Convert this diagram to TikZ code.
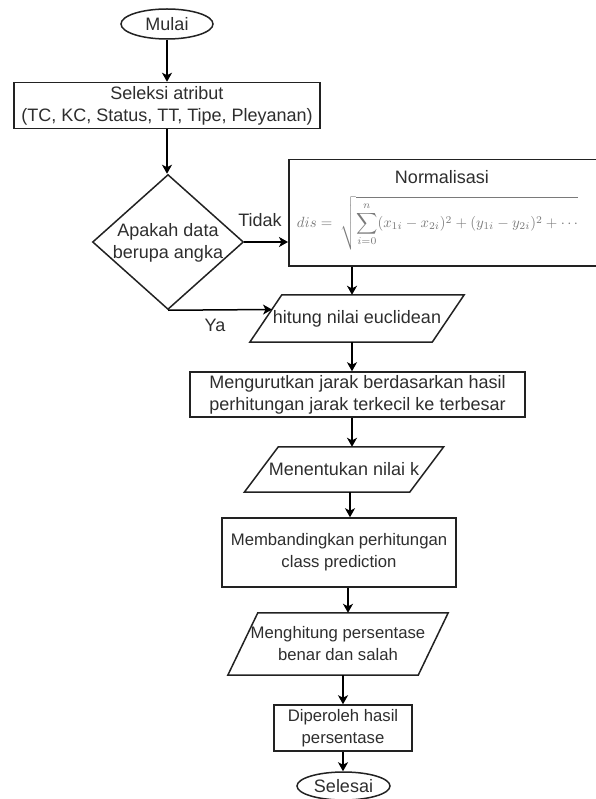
\documentclass[tikz,border=0pt]{standalone}
\usepackage{fontspec}
\setmainfont{Liberation Sans}
\usepackage{graphicx}
\usetikzlibrary{shapes.geometric,arrows.meta,calc}
\definecolor{txt}{HTML}{2E2E2E}
\definecolor{edge}{HTML}{222222}
\definecolor{frm}{HTML}{7A7A7A}
\begin{document}
\begin{tikzpicture}[x=1pt,y=-1pt,
  lbl/.style={font=\fontsize{18}{22}\selectfont, text=txt, align=center},
  lbls/.style={font=\fontsize{16.7}{22}\selectfont, text=txt, align=center},
  box/.style={draw=edge, line width=1.5pt, fill=white, inner sep=0pt, align=center},
  pshape/.style={draw=edge, line width=1.5pt, line join=miter},
  arr/.style={draw=black, line width=1.5pt, -{Stealth[length=9pt,width=10pt,inset=2.5pt]}}]
\useasboundingbox (0,0) rectangle (595,799);
% column coordinates
\coordinate (c1) at (352,0);
\coordinate (c2) at (350,0);
\coordinate (c3) at (348,0);
\coordinate (c4) at (343,0);
% nodes
\node[box, ellipse, minimum width=92pt, minimum height=30pt, lbl] (start) at (167,24) {Mulai};
\node[box, rectangle, minimum width=306pt, minimum height=46pt, lbl] (sel) at (167,105.5) {Seleksi atribut\\(TC, KC, Status, TT, Tipe, Pleyanan)};
\node[box, diamond, minimum width=151pt, minimum height=135pt] (dec) at (168,242) {};
\node[lbl, inner sep=0pt] (dect) at (168,243) {Apakah data\\berupa angka};
\node[box, rectangle, minimum width=312pt, minimum height=106pt, anchor=north west] (norm) at (288,159) {};
\node[lbl, inner sep=0pt] (normt) at (442,177) {Normalisasi};
\node[lbl, inner sep=0pt, minimum width=182pt, minimum height=47pt] (p1) at (357,318.5) {hitung nilai euclidean};
\draw[pshape] ($(p1.north west)+(16,0)$) -- ($(p1.north east)+(16,0)$) -- ($(p1.south east)+(-16,0)$) -- ($(p1.south west)+(-16,0)$) -- cycle;
\coordinate (ya) at (272,309.5);
\node[box, rectangle, minimum width=335pt, minimum height=45pt, lbl] (urut) at (357.5,394.5) {Mengurutkan jarak berdasarkan hasil\\perhitungan jarak terkecil ke terbesar};
\node[lbl, inner sep=0pt, minimum width=165pt, minimum height=45pt] (p2) at (344,469.5) {Menentukan nilai k};
\draw[pshape] ($(p2.north west)+(17,0)$) -- ($(p2.north east)+(17,0)$) -- ($(p2.south east)+(-17,0)$) -- ($(p2.south west)+(-17,0)$) -- cycle;
\node[box, rectangle, minimum width=234pt, minimum height=69pt, lbls] (band) at (339,552.5) {Membandingkan perhitungan\\class prediction};
\node[lbls, inner sep=0pt, minimum width=190pt, minimum height=62pt] (p3) at (338,644) {Menghitung persentase\\benar dan salah};
\draw[pshape] ($(p3.north west)+(15,0)$) -- ($(p3.north east)+(15,0)$) -- ($(p3.south east)+(-15,0)$) -- ($(p3.south west)+(-15,0)$) -- cycle;
\node[box, rectangle, minimum width=138pt, minimum height=46pt, lbls] (hasil) at (343,728) {Diperoleh hasil\\persentase};
\node[box, ellipse, minimum width=93pt, minimum height=28pt, lbl] (end) at (343.5,786) {Selesai};
% labels
\node[lbl, inner sep=0pt] (tidak) at (260,220) {Tidak};
\node[lbl, inner sep=0pt] (yalbl) at (215,325) {Ya};
% connectors
\draw[arr] (start.south) -- (sel.north);
\draw[arr] (sel.south) -- (sel.south |- dec.north);
\draw[arr] (dec.east) -- (dec.east -| norm.west);
\draw[arr] (dec.south) -- (ya);
\draw[arr] (norm.south -| c1) -- (p1.north -| c1);
\draw[arr] (p1.south -| c1) -- (urut.north -| c1);
\draw[arr] (urut.south -| c1) -- (p2.north -| c1);
\draw[arr] (p2.south -| c2) -- (band.north -| c2);
\draw[arr] (band.south -| c3) -- (p3.north -| c3);
\draw[arr] (p3.south -| c4) -- (hasil.north -| c4);
\draw[arr] (hasil.south -| c4) -- (end.north -| c4);
% formula last
\node[inner sep=0pt, text=frm] (form) at (437.5,223) {\resizebox{281pt}{!}{$\displaystyle dis=\ \sqrt{\sum_{i=0}^{n}(x_{1i}-x_{2i})^2+(y_{1i}-y_{2i})^2+\cdots}$}};
\end{tikzpicture}
\end{document}
